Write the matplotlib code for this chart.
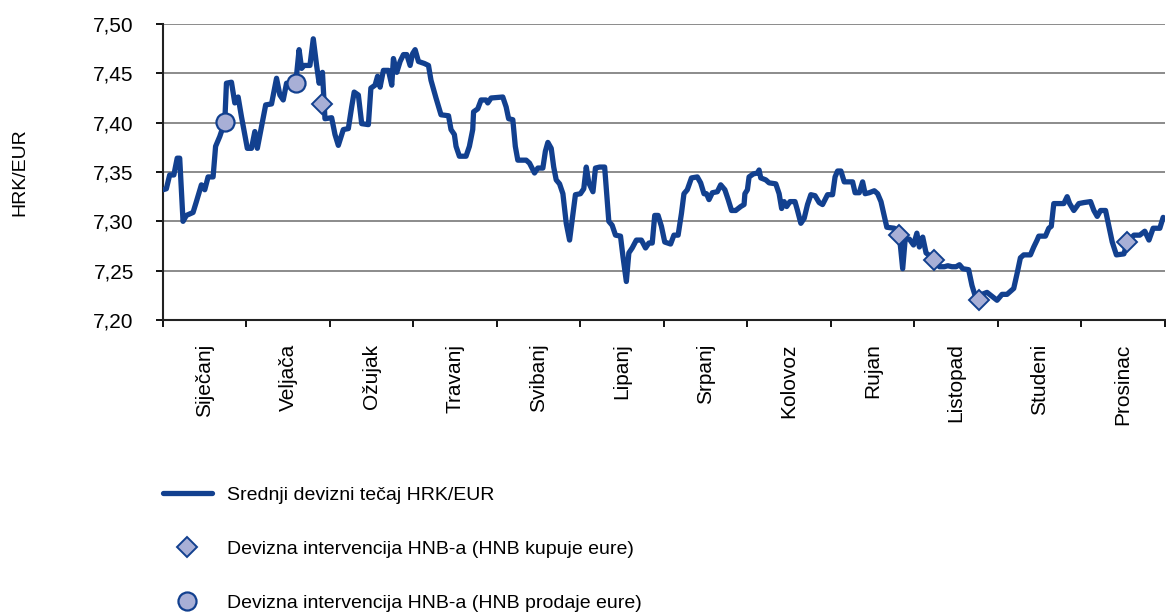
import numpy as np
import matplotlib
matplotlib.use("Agg")
import matplotlib.pyplot as plt

plt.rcParams['font.family'] = ['Liberation Sans', 'DejaVu Sans']

# mjeseci (pozicija u mjesecima od pocetka godine)
months = ["Siječanj", "Veljača", "Ožujak", "Travanj", "Svibanj", "Lipanj",
          "Srpanj", "Kolovoz", "Rujan", "Listopad", "Studeni", "Prosinac"]

t = [0.00, 0.04, 0.08, 0.13, 0.17, 0.20, 0.24, 0.28, 0.36, 0.40,
     0.46, 0.50, 0.54, 0.60, 0.63, 0.68, 0.74, 0.76, 0.82, 0.86,
     0.90, 0.94, 1.01, 1.06, 1.10, 1.13, 1.18, 1.23, 1.30, 1.36,
     1.40, 1.44, 1.48, 1.59, 1.63, 1.66, 1.69, 1.76, 1.80, 1.84,
     1.87, 1.91, 1.94, 2.02, 2.06, 2.10, 2.16, 2.22, 2.26, 2.29,
     2.34, 2.38, 2.46, 2.49, 2.54, 2.57, 2.60, 2.64, 2.70, 2.74,
     2.76, 2.80, 2.84, 2.88, 2.92, 2.96, 2.99, 3.02, 3.06, 3.13,
     3.18, 3.21, 3.27, 3.33, 3.42, 3.45, 3.49, 3.51, 3.55, 3.63,
     3.67, 3.71, 3.72, 3.77, 3.81, 3.87, 3.89, 3.93, 4.07, 4.11,
     4.14, 4.19, 4.22, 4.25, 4.35, 4.39, 4.45, 4.49, 4.55, 4.58,
     4.61, 4.65, 4.68, 4.71, 4.75, 4.79, 4.83, 4.87, 4.90, 4.94,
     5.00, 5.04, 5.07, 5.10, 5.15, 5.18, 5.23, 5.29, 5.32, 5.34,
     5.38, 5.42, 5.48, 5.51, 5.55, 5.58, 5.62, 5.67, 5.73, 5.78,
     5.82, 5.86, 5.89, 5.93, 5.97, 6.01, 6.08, 6.12, 6.17, 6.21,
     6.24, 6.28, 6.33, 6.40, 6.44, 6.48, 6.51, 6.54, 6.58, 6.64,
     6.68, 6.73, 6.77, 6.81, 6.86, 6.92, 6.96, 6.97, 7.00, 7.02,
     7.07, 7.12, 7.14, 7.16, 7.22, 7.26, 7.34, 7.38, 7.41, 7.44,
     7.47, 7.51, 7.57, 7.60, 7.64, 7.68, 7.72, 7.76, 7.81, 7.86,
     7.90, 7.96, 8.02, 8.05, 8.08, 8.12, 8.16, 8.26, 8.29, 8.34,
     8.38, 8.41, 8.46, 8.52, 8.56, 8.60, 8.64, 8.67, 8.76, 8.82,
     8.86, 8.89, 8.94, 8.99, 9.03, 9.06, 9.10, 9.14, 9.20, 9.24,
     9.30, 9.36, 9.40, 9.45, 9.50, 9.54, 9.58, 9.65, 9.69, 9.73,
     9.77, 9.81, 9.87, 9.93, 9.99, 10.05, 10.11, 10.19, 10.23, 10.27,
     10.31, 10.39, 10.43, 10.47, 10.49, 10.57, 10.61, 10.64, 10.67, 10.73,
     10.79, 10.83, 10.86, 10.91, 10.97, 11.03, 11.11, 11.15, 11.19, 11.23,
     11.29, 11.33, 11.37, 11.42, 11.51, 11.55, 11.63, 11.70, 11.76, 11.81,
     11.86, 11.94, 11.98]

tecaj = [7.332, 7.333, 7.347, 7.347, 7.364, 7.364, 7.300, 7.306, 7.309, 7.320,
         7.337, 7.332, 7.345, 7.345, 7.376, 7.386, 7.401, 7.440, 7.441, 7.420,
         7.426, 7.406, 7.374, 7.374, 7.391, 7.374, 7.396, 7.418, 7.419, 7.445,
         7.428, 7.423, 7.440, 7.440, 7.474, 7.455, 7.458, 7.458, 7.485, 7.458,
         7.440, 7.451, 7.404, 7.405, 7.388, 7.377, 7.393, 7.394, 7.416, 7.431,
         7.428, 7.399, 7.398, 7.435, 7.438, 7.447, 7.436, 7.453, 7.453, 7.438,
         7.465, 7.451, 7.462, 7.469, 7.469, 7.458, 7.470, 7.474, 7.462, 7.460,
         7.458, 7.443, 7.425, 7.408, 7.407, 7.393, 7.388, 7.376, 7.366, 7.366,
         7.376, 7.393, 7.411, 7.414, 7.423, 7.423, 7.420, 7.425, 7.426, 7.416,
         7.404, 7.403, 7.376, 7.362, 7.362, 7.359, 7.349, 7.354, 7.354, 7.371,
         7.380, 7.374, 7.355, 7.342, 7.338, 7.328, 7.298, 7.281, 7.301, 7.327,
         7.328, 7.333, 7.355, 7.339, 7.330, 7.354, 7.355, 7.355, 7.322, 7.300,
         7.296, 7.286, 7.285, 7.264, 7.239, 7.268, 7.273, 7.281, 7.281, 7.273,
         7.278, 7.278, 7.306, 7.306, 7.295, 7.279, 7.277, 7.286, 7.286, 7.308,
         7.328, 7.332, 7.344, 7.345, 7.339, 7.328, 7.328, 7.322, 7.329, 7.330,
         7.337, 7.332, 7.322, 7.311, 7.311, 7.315, 7.317, 7.328, 7.332, 7.345,
         7.348, 7.349, 7.352, 7.344, 7.342, 7.339, 7.338, 7.328, 7.313, 7.320,
         7.315, 7.320, 7.320, 7.311, 7.298, 7.303, 7.317, 7.327, 7.326, 7.319,
         7.317, 7.327, 7.327, 7.345, 7.351, 7.351, 7.340, 7.340, 7.329, 7.329,
         7.340, 7.328, 7.329, 7.331, 7.328, 7.320, 7.305, 7.294, 7.293, 7.286,
         7.252, 7.282, 7.282, 7.276, 7.288, 7.274, 7.284, 7.268, 7.264, 7.261,
         7.254, 7.254, 7.255, 7.254, 7.254, 7.256, 7.252, 7.251, 7.235, 7.224,
         7.220, 7.226, 7.228, 7.224, 7.220, 7.226, 7.226, 7.232, 7.247, 7.263,
         7.266, 7.266, 7.274, 7.281, 7.285, 7.285, 7.293, 7.295, 7.318, 7.318,
         7.318, 7.325, 7.318, 7.311, 7.318, 7.319, 7.320, 7.311, 7.305, 7.311,
         7.311, 7.295, 7.279, 7.266, 7.267, 7.279, 7.286, 7.286, 7.290, 7.281,
         7.293, 7.293, 7.304]

# intervencije
kupuje_t = [1.90, 8.82, 9.24, 9.77, 11.55]
kupuje_v = [7.419, 7.286, 7.261, 7.220, 7.279]
prodaje_t = [0.74, 1.59]
prodaje_v = [7.401, 7.440]

yticks = [7.20, 7.25, 7.30, 7.35, 7.40, 7.45, 7.50]

blue = "#12408f"
light = "#a8afd6"

fig = plt.figure(figsize=(11.66, 6.12), dpi=100)
ax = fig.add_axes([163/1166, 1 - 320/612, 1 - 163/1166 - 0.001, (320 - 24)/612])

ax.plot(t, tecaj, color=blue, lw=3.8, solid_joinstyle='round', solid_capstyle='round',
        label="Srednji devizni tečaj HRK/EUR", zorder=3)
ax.plot(kupuje_t, kupuje_v, ls='none', marker='D', ms=10, mfc=light, mec=blue, mew=1.4,
        label="Devizna intervencija HNB-a (HNB kupuje eure)", zorder=4)
ax.plot(prodaje_t, prodaje_v, ls='none', marker='o', ms=13, mfc=light, mec=blue, mew=1.6,
        label="Devizna intervencija HNB-a (HNB prodaje eure)", zorder=4)

ax.set_xlim(0, 12)
ax.set_ylim(7.20, 7.50)
ax.set_yticks(yticks)
ax.set_yticklabels([f"{v:.2f}".replace(".", ",") for v in yticks])
ax.yaxis.grid(True, color="#787878", lw=1.2)
ax.set_axisbelow(True)

ax.set_xticks(np.arange(0, 13))
ax.set_xticklabels([])
ax.set_xticks(np.arange(12) + 0.5, minor=True)
ax.set_xticklabels(months, minor=True, rotation=90, va='top', ha='center')

ax.tick_params(axis='y', direction='out', length=5, width=1.3, pad=16, labelsize=15)
ax.tick_params(axis='x', which='major', direction='out', length=5, width=1.3)
ax.tick_params(axis='x', which='minor', length=0, pad=17, labelsize=15)

for s in ['top', 'right']:
    ax.spines[s].set_visible(False)
for s in ['left', 'bottom']:
    ax.spines[s].set_linewidth(1.5)
    ax.spines[s].set_color('#222222')

fig.text(20/1166, 1 - 172/612, "HRK/EUR", rotation=90, va='center', ha='center', fontsize=14)

fig.legend(loc='upper left', bbox_to_anchor=(163/1166, 1 - 486/612), frameon=False,
           fontsize=14, handlelength=2.5, handletextpad=0.8, labelspacing=1.88,
           borderpad=0, borderaxespad=0)

fig.savefig("out.png", dpi=100)
